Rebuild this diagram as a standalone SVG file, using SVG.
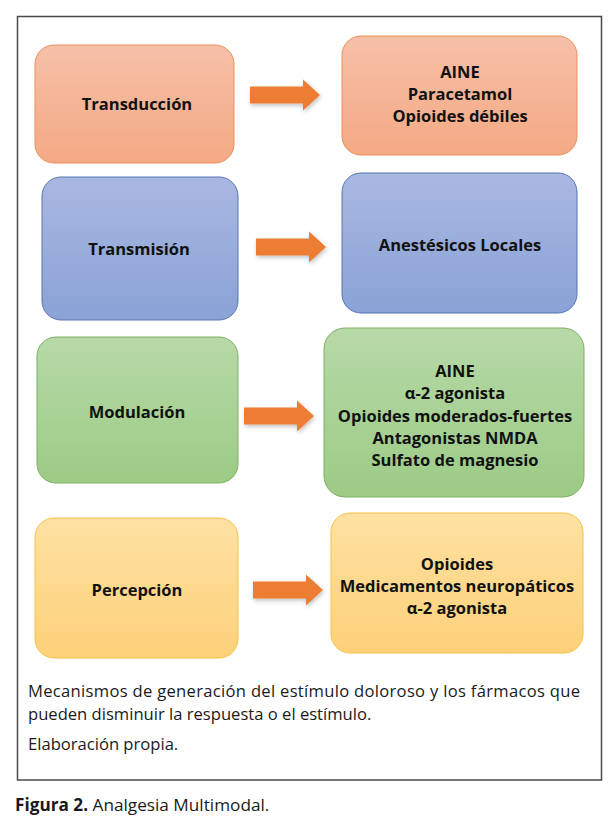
<svg xmlns="http://www.w3.org/2000/svg" width="611" height="833" viewBox="0 0 611 833">
<defs>
<linearGradient id="gO" x1="0" y1="0" x2="0" y2="1"><stop offset="0" stop-color="#f6c0a8"/><stop offset="1" stop-color="#f4a984"/></linearGradient>
<linearGradient id="gB" x1="0" y1="0" x2="0" y2="1"><stop offset="0" stop-color="#a9b8e1"/><stop offset="1" stop-color="#8aa2d6"/></linearGradient>
<linearGradient id="gG" x1="0" y1="0" x2="0" y2="1"><stop offset="0" stop-color="#b7d9a8"/><stop offset="1" stop-color="#9ccb85"/></linearGradient>
<linearGradient id="gY" x1="0" y1="0" x2="0" y2="1"><stop offset="0" stop-color="#fee1a3"/><stop offset="1" stop-color="#fdd179"/></linearGradient>
<filter id="sh" x="-20%" y="-30%" width="150%" height="170%"><feDropShadow dx="1" dy="2" stdDeviation="2" flood-color="#000" flood-opacity="0.25"/></filter>
<path id="arr" d="M0,-8.5 L53,-8.5 L53,-15.5 L70,0 L53,15.5 L53,8.5 L0,8.5 Z"/>
</defs>
<style>
.o{fill:url(#gO);stroke:#ec8d5b;stroke-width:1}
.b{fill:url(#gB);stroke:#5574b3;stroke-width:1}
.g{fill:url(#gG);stroke:#7cb062;stroke-width:1}
.y{fill:url(#gY);stroke:#f4c247;stroke-width:1}
.t{font-family:"Open Sans","Liberation Sans",sans-serif;font-weight:700;font-size:16.5px;fill:#111;text-anchor:middle}
.c{font-family:"Open Sans","Liberation Sans",sans-serif;font-size:16.6px;fill:#1a1a1a}
.a{fill:#ed7d31}
</style>
<rect x="17.5" y="16.5" width="584" height="763.5" fill="#fff" stroke="#4a4a4a" stroke-width="1.5"/>
<g id="n-transduccion"><rect class="o" x="35" y="45" width="199" height="118" rx="19"/><text class="t" x="137" y="110">Transducción</text></g>
<g id="n-transduccion-farm"><rect class="o" x="342" y="36" width="235" height="119" rx="19"/><text class="t" x="460" y="78">AINE</text><text class="t" x="460" y="100">Paracetamol</text><text class="t" x="460" y="122">Opioides débiles</text></g>
<g id="n-transmision"><rect class="b" x="42" y="177" width="196" height="143" rx="19"/><text class="t" x="139" y="255">Transmisión</text></g>
<g id="n-transmision-farm"><rect class="b" x="342" y="173" width="235" height="140" rx="19"/><text class="t" x="460" y="251">Anestésicos Locales</text></g>
<g id="n-modulacion"><rect class="g" x="37" y="337" width="201" height="146" rx="19"/><text class="t" x="137" y="418">Modulación</text></g>
<g id="n-modulacion-farm"><rect class="g" x="324" y="328" width="260" height="169" rx="21"/><text class="t" x="455" y="377">AINE</text><text class="t" x="455" y="399">α-2 agonista</text><text class="t" x="455" y="422">Opioides moderados-fuertes</text><text class="t" x="455" y="444">Antagonistas NMDA</text><text class="t" x="455" y="466">Sulfato de magnesio</text></g>
<g id="n-percepcion"><rect class="y" x="35" y="518" width="203" height="140" rx="19"/><text class="t" x="137" y="596">Percepción</text></g>
<g id="n-percepcion-farm"><rect class="y" x="331" y="513" width="252" height="140" rx="19"/><text class="t" x="457" y="570">Opioides</text><text class="t" x="457" y="592">Medicamentos neuropáticos</text><text class="t" x="457" y="614">α-2 agonista</text></g>
<g id="connectors" filter="url(#sh)">
<use href="#arr" class="a" transform="translate(250,95)"/>
<use href="#arr" class="a" transform="translate(256,247)"/>
<use href="#arr" class="a" transform="translate(244,416)"/>
<use href="#arr" class="a" transform="translate(253,590)"/>
</g>
<g id="caption">
<text class="c" x="28" y="697" textLength="552" lengthAdjust="spacing">Mecanismos de generación del estímulo doloroso y los fármacos que</text>
<text class="c" x="28" y="720">pueden disminuir la respuesta o el estímulo.</text>
<text class="c" x="28" y="750">Elaboración propia.</text>
<text class="c" x="15" y="811" style="font-size:17.2px"><tspan font-weight="700">Figura 2.</tspan> Analgesia Multimodal.</text>
</g>
</svg>
